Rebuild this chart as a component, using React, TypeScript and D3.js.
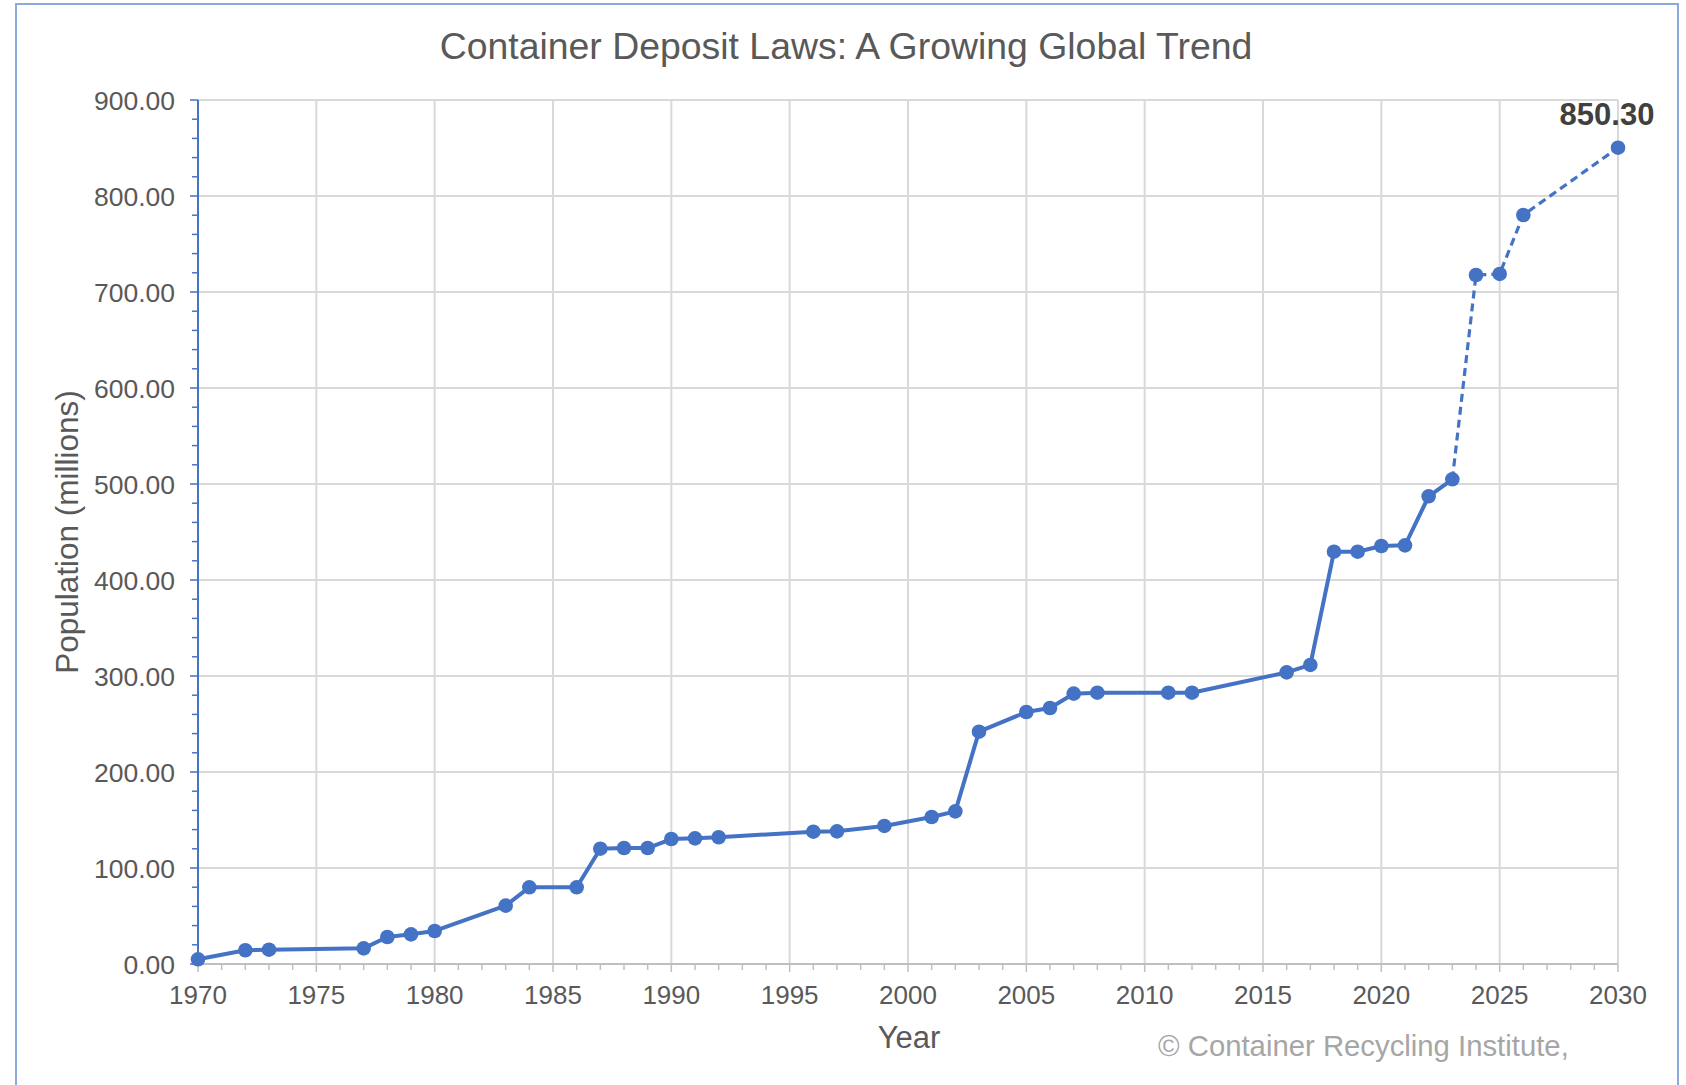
import React from "react";
import * as d3 from "d3";

const years = [1970, 1972, 1973, 1977, 1978, 1979, 1980, 1983, 1984, 1986, 1987, 1988, 1989, 1990, 1991, 1992, 1996, 1997, 1999, 2001, 2002, 2003, 2005, 2006, 2007, 2008, 2011, 2012, 2016, 2017, 2018, 2019, 2020, 2021, 2022, 2023, 2024, 2025, 2026, 2030];
const population = [4.9, 14.3, 14.9, 16.3, 28.1, 30.9, 34.4, 60.8, 79.9, 79.9, 120.1, 120.8, 120.8, 130.2, 130.9, 132.0, 137.8, 138.2, 143.8, 153.1, 159.0, 242.0, 262.5, 266.7, 281.6, 282.6, 282.6, 282.6, 303.8, 311.5, 429.5, 429.5, 435.4, 436.1, 487.2, 504.9, 717.7, 718.8, 780.2, 850.3];
const projectionStartYear = 2023;
const xTickYears = [1970, 1975, 1980, 1985, 1990, 1995, 2000, 2005, 2010, 2015, 2020, 2025, 2030];
const yTickValues = [0, 100, 200, 300, 400, 500, 600, 700, 800, 900];
const titleText = "Container Deposit Laws: A Growing Global Trend";
const xAxisTitle = "Year";
const yAxisTitle = "Population (millions)";
const sourceText = "© Container Recycling Institute,";
const highlightLabel = "850.30";

const FONT = "'Liberation Sans', Arial, sans-serif";
const BLUE = "#4472c4";

export default function App() {
  const left = 198, right = 1618, top = 100, bottom = 964;
  const x = d3.scaleLinear().domain([1970, 2030]).range([left, right]);
  const y = d3.scaleLinear().domain([0, 900]).range([bottom, top]);

  const data = years.map((yr, i) => ({ yr, v: population[i] }));
  const solid = data.filter((d) => d.yr <= projectionStartYear);
  const dashed = data.filter((d) => d.yr >= projectionStartYear);
  const line = d3
    .line<{ yr: number; v: number }>()
    .x((d) => x(d.yr))
    .y((d) => y(d.v));

  const minorYears = d3.range(1970, 2031, 1);
  const minorY = d3.range(0, 901, 20);
  const last = data[data.length - 1];

  return (
    <svg
      width={1686}
      height={1085}
      style={{ position: "absolute", left: 0, top: 0, background: "#fff" }}
      fontFamily={FONT}
    >
      <rect x={0} y={0} width={1686} height={1085} fill="#fff" />
      <rect x={16} y={4} width={1662} height={1100} fill="none" stroke="#8eaadb" strokeWidth={2} />

      <text x={846} y={59} textAnchor="middle" fontSize={37.4} fill="#595959">
        {titleText}
      </text>

      {/* gridlines */}
      {yTickValues.map((v) => (
        <line key={"gy" + v} x1={left} x2={right} y1={y(v)} y2={y(v)} stroke="#d9d9d9" strokeWidth={2} />
      ))}
      {xTickYears.map((yr) => (
        <line key={"gx" + yr} x1={x(yr)} x2={x(yr)} y1={top} y2={bottom} stroke="#d9d9d9" strokeWidth={2} />
      ))}

      {/* x axis */}
      <line x1={left} x2={right} y1={bottom} y2={bottom} stroke="#bfbfbf" strokeWidth={2} />
      {minorYears.map((yr) => (
        <line
          key={"xt" + yr}
          x1={x(yr)}
          x2={x(yr)}
          y1={bottom}
          y2={bottom + (yr % 5 === 0 ? 8 : 6)}
          stroke="#bfbfbf"
          strokeWidth={1.5}
        />
      ))}
      {xTickYears.map((yr) => (
        <text key={"xl" + yr} x={x(yr)} y={1004} textAnchor="middle" fontSize={26} fill="#595959">
          {yr}
        </text>
      ))}

      {/* y axis */}
      {minorY.map((v) => (
        <line
          key={"yt" + v}
          x1={left - (v % 100 === 0 ? 8 : 6)}
          x2={left}
          y1={y(v)}
          y2={y(v)}
          stroke={BLUE}
          strokeWidth={1.5}
        />
      ))}
      <line x1={left} x2={left} y1={top} y2={bottom} stroke={BLUE} strokeWidth={2} />
      {yTickValues.map((v) => (
        <text key={"yl" + v} x={175} y={y(v) + 9.5} textAnchor="end" fontSize={26.5} fill="#595959">
          {v.toFixed(2)}
        </text>
      ))}

      {/* axis titles */}
      <text x={909} y={1048} textAnchor="middle" fontSize={31} fill="#595959">
        {xAxisTitle}
      </text>
      <text
        transform={`translate(78, 532) rotate(-90)`}
        textAnchor="middle"
        fontSize={31.5}
        fill="#595959"
      >
        {yAxisTitle}
      </text>
      <text x={1158} y={1056} fontSize={29.3} fill="#a6a6a6">
        {sourceText}
      </text>

      {/* series */}
      <path d={line(solid) || ""} fill="none" stroke={BLUE} strokeWidth={4} strokeLinejoin="round" />
      <path d={line(dashed) || ""} fill="none" stroke={BLUE} strokeWidth={3.2} strokeDasharray="8,5" />
      {data.map((d) => (
        <circle key={"p" + d.yr} cx={x(d.yr)} cy={y(d.v)} r={7.3} fill={BLUE} />
      ))}

      <text x={x(last.yr) - 11} y={125} textAnchor="middle" fontSize={31} fontWeight="bold" fill="#404040">
        {highlightLabel}
      </text>
    </svg>
  );
}
